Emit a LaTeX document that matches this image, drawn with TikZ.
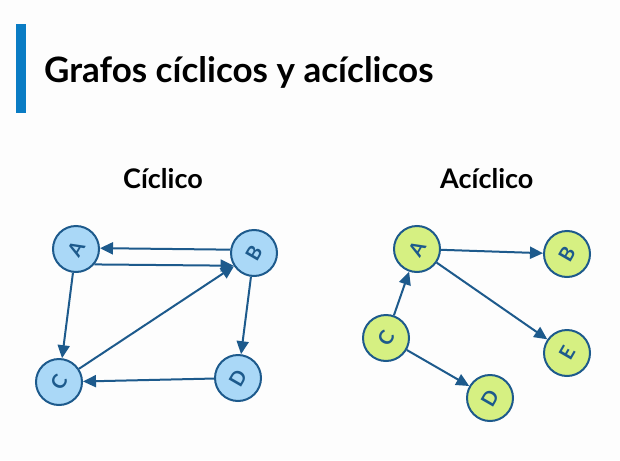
\documentclass[tikz,border=0pt]{standalone}
\usepackage{fontspec}
\usepackage{graphicx}
\setmainfont{Lato}
\usetikzlibrary{arrows.meta}
\definecolor{barblue}{HTML}{0A7CC4}
\definecolor{edgeblue}{HTML}{1D5A8C}
\definecolor{lightblue}{HTML}{AAD8F7}
\definecolor{lightgreen}{HTML}{D6F082}
\definecolor{bgcol}{HTML}{FDFDFD}
\newcommand{\rl}[1]{\rotatebox[origin=c]{60}{#1}}
\tikzset{
  vtx/.style={circle, draw=edgeblue, line width=2pt, minimum size=46pt, inner sep=0pt,
    text=edgeblue, font=\fontsize{20}{20}\selectfont\bfseries},
  cyc/.style={vtx, fill=lightblue},
  acy/.style={vtx, fill=lightgreen},
  arr/.style={draw=edgeblue, line width=2pt, -{Triangle[length=13pt,width=12pt]}},
  heading/.style={anchor=base west, inner sep=0pt, text=black}
}
\begin{document}
\begin{tikzpicture}[x=1pt,y=-1pt]
\fill[bgcol] (0,0) rectangle (620,460);
\useasboundingbox (0,0) rectangle (620,460);
\fill[barblue] (15.5,24) rectangle (26,113);
\node[heading, font=\fontsize{35}{35}\selectfont\bfseries] (title) at (44,82) {Grafos cíclicos y acíclicos};
\node[heading, font=\fontsize{27}{27}\selectfont\bfseries] (h1) at (123,188) {Cíclico};
\node[heading, font=\fontsize{27}{27}\selectfont\bfseries] (h2) at (440,188) {Acíclico};
% cyclic graph
\node[cyc] (lA) at (76,249) {\rl{A}};
\node[cyc] (lB) at (254,253) {\rl{B}};
\node[cyc] (lC) at (59,382) {\rl{C}};
\node[cyc] (lD) at (238,378) {\rl{D}};
\draw[arr] (lB.172) -- (lA.2);
\draw[arr] (lA.-40) -- (lB.212);
\draw[arr] (lA) -- (lC);
\draw[arr] (lC) -- (lB);
\draw[arr] (lB) -- (lD);
\draw[arr] (lD) -- (lC);
% acyclic graph
\node[acy] (rA) at (417,249) {\rl{A}};
\node[acy] (rB) at (567,254) {\rl{B}};
\node[acy] (rC) at (386,338) {\rl{C}};
\node[acy] (rE) at (567,353) {\rl{E}};
\node[acy] (rD) at (490,398) {\rl{D}};
\draw[arr] (rA) -- (rB);
\draw[arr] (rA) -- (rE);
\draw[arr] (rC) -- (rA);
\draw[arr] (rC) -- (rD);
\end{tikzpicture}
\end{document}
